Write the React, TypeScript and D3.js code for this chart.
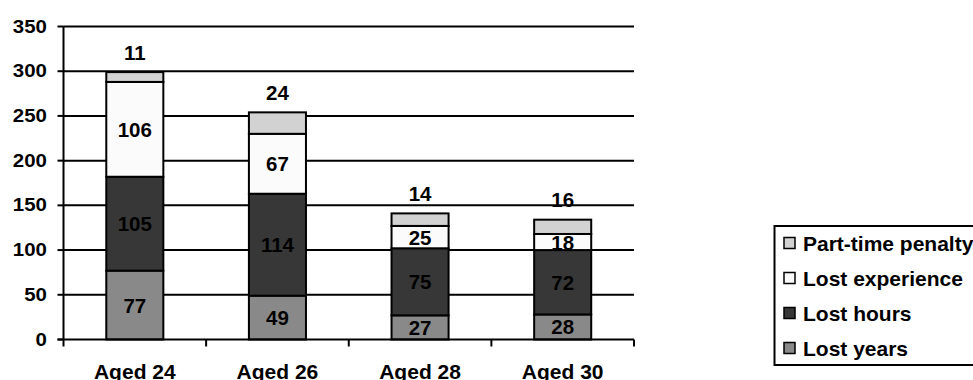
import React from "react";
import * as d3 from "d3";

const categories = ["Aged 24", "Aged 26", "Aged 28", "Aged 30"];
const seriesNames = ["Lost years", "Lost hours", "Lost experience", "Part-time penalty"];
const lostYears = [77, 49, 27, 28];
const lostHours = [105, 114, 75, 72];
const lostExperience = [106, 67, 25, 18];
const partTimePenalty = [11, 24, 14, 16];
const yTicks = [0, 50, 100, 150, 200, 250, 300, 350];

const seriesColors = ["#898989", "#373737", "#fbfbfb", "#d2d2d2"];
const FONT = "'Liberation Sans', Arial, sans-serif";

export default function App() {
  const width = 973;
  const height = 380;
  const left = 63.5;
  const right = 634;
  const top = 26.5;
  const bottom = 339.5;

  const x = d3.scaleBand<string>().domain(categories).range([left, right]).paddingInner(0.6).paddingOuter(0.3);
  const band = d3.scaleBand<string>().domain(categories).range([left, right]);
  const y = d3.scaleLinear().domain([0, 350]).range([bottom, top]);

  const rows = categories.map((c, i) => ({
    cat: c,
    "Lost years": lostYears[i],
    "Lost hours": lostHours[i],
    "Lost experience": lostExperience[i],
    "Part-time penalty": partTimePenalty[i],
  }));
  const stacked = d3.stack<any>().keys(seriesNames)(rows);

  const legendTop = 226;
  const legendRow = 35;

  return (
    <svg
      width={width}
      height={height}
      style={{ position: "absolute", left: 0, top: 0, background: "#fff" }}
      fontFamily={FONT}
      fontWeight="bold"
    >
      {/* gridlines */}
      {yTicks.filter((t) => t > 0).map((t) => (
        <line key={t} x1={left} x2={right} y1={y(t)} y2={y(t)} stroke="#000" strokeWidth={2} />
      ))}
      {/* y axis */}
      <line x1={left} x2={left} y1={top} y2={bottom} stroke="#000" strokeWidth={2} />
      {yTicks.map((t) => (
        <g key={t}>
          <line x1={left - 6} x2={left} y1={y(t)} y2={y(t)} stroke="#000" strokeWidth={2} />
          <text
            transform={`translate(47,${y(t) + 6}) scale(1.17,1)`}
            textAnchor="end"
            fontSize={17.5}
          >
            {t}
          </text>
        </g>
      ))}

      {/* stacked bars */}
      {stacked.map((layer, si) =>
        layer.map((d, i) => {
          const bx = x(categories[i])!;
          const bw = x.bandwidth();
          const y0 = y(d[0]);
          const y1 = y(d[1]);
          return (
            <rect
              key={`${si}-${i}`}
              x={bx}
              y={y1}
              width={bw}
              height={y0 - y1}
              fill={seriesColors[si]}
              stroke="#000"
              strokeWidth={2}
            />
          );
        })
      )}

      {/* x axis */}
      <line x1={left - 6} x2={right} y1={bottom} y2={bottom} stroke="#000" strokeWidth={2} />
      {[...categories.map((c) => band(c)!), right].map((tx, i) => (
        <line key={i} x1={tx} x2={tx} y1={bottom} y2={bottom + 7} stroke="#000" strokeWidth={2} />
      ))}
      {categories.map((c) => (
        <text key={c} x={band(c)! + band.bandwidth() / 2} y={378.5} textAnchor="middle" fontSize={21}>
          {c}
        </text>
      ))}

      {/* value labels */}
      {stacked.map((layer, si) =>
        layer.map((d, i) => {
          const cx = x(categories[i])! + x.bandwidth() / 2;
          const v = d[1] - d[0];
          const isTop = si === seriesNames.length - 1;
          const cy = isTop ? y(d[1]) - 20 : (y(d[0]) + y(d[1])) / 2;
          return (
            <text key={`l${si}-${i}`} x={cx} y={cy + 7.5} textAnchor="middle" fontSize={20.5} fill="#000">
              {v}
            </text>
          );
        })
      )}

      {/* legend */}
      <rect x={774.5} y={legendTop} width={220} height={139} fill="#fff" stroke="#000" strokeWidth={2} />
      {[...seriesNames].reverse().map((name, i) => {
        const si = seriesNames.indexOf(name);
        const cy = legendTop + 17.5 + i * legendRow;
        return (
          <g key={name}>
            <rect x={784} y={cy - 6} width={11} height={11} fill={seriesColors[si]} stroke="#000" strokeWidth={1.5} />
            <text x={803} y={cy + 7.5} fontSize={21}>
              {name}
            </text>
          </g>
        );
      })}
    </svg>
  );
}
